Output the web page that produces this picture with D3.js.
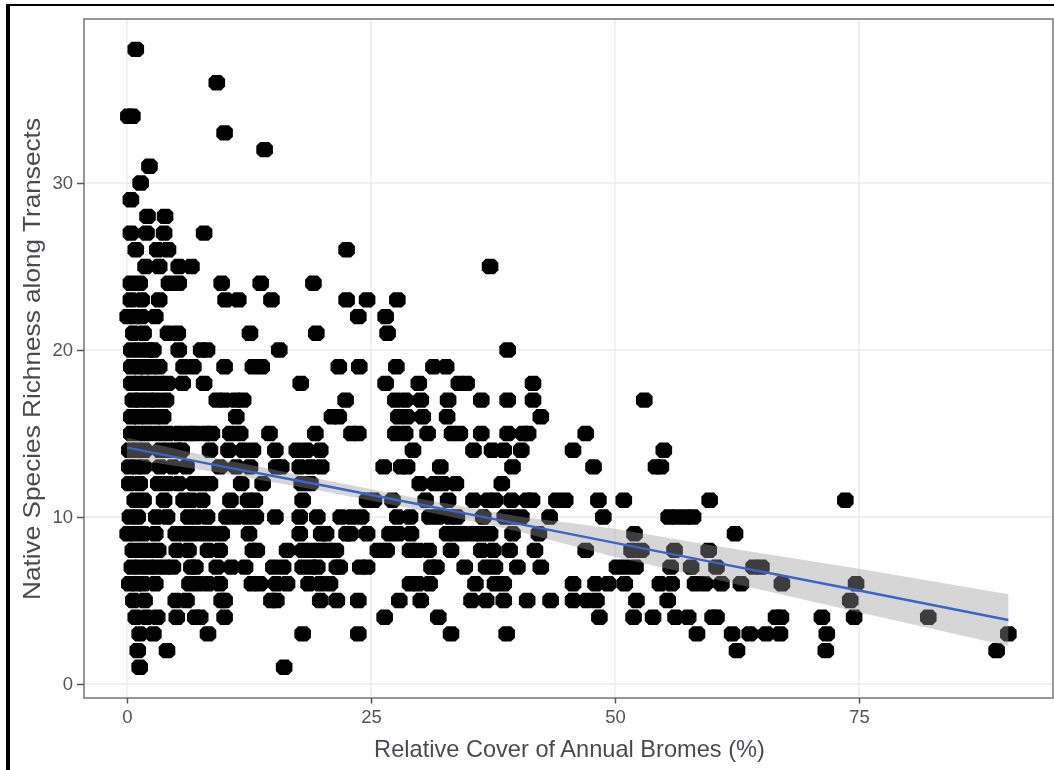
<!DOCTYPE html>
<html><head><meta charset="utf-8">
<script src="https://cdn.jsdelivr.net/npm/d3@7"></script>
<style>html,body{margin:0;padding:0;background:#fff}svg{display:block}text{font-family:"Liberation Sans",Arial,sans-serif}</style>
</head><body><svg id="c" width="1054" height="770"><defs><filter id="soft" x="0" y="0" width="100%" height="100%"><feGaussianBlur stdDeviation="0.55"/></filter></defs></svg>
<script>
const xTicks=[0,25,50,75], yTicks=[0,10,20,30];
const xTitle="Relative Cover of Annual Bromes (%)", yTitle="Native Species Richness along Transects";
// x values (percent cover) of the points in each richness row
const rows={
38:[0.9],36:[9.2],34:[0.14,0.55],33:[10],32:[14.1],31:[2.3],30:[1.4],29:[0.4],
28:[2.1,3.9],27:[0.4,2,3.8,7.9],26:[0.9,3.1,4.2,22.5],25:[1.9,3.3,5.3,6.6,37.2],
24:[0.4,1.3,4.3,5.3,9.7,13.7,19.1],23:[0.4,1.5,3.3,10.1,11.4,14.8,22.5,24.6,27.7],
22:[0.07,0.8,1.5,2.9,23.7,26.5],21:[0.65,1.7,4.2,5.2,12.6,19.4,26.7],
20:[0.44,1.33,2.2,2.7,5.3,7.6,8.2,15.6,39],
19:[0.44,1.2,1.8,2.5,3.3,5.8,6.8,10,12.9,13.8,21.7,23.8,27.6,31.4,32.7],
18:[0.44,1.2,1.8,2.5,3.4,4.2,5.7,7.9,17.8,26.5,29.9,34,34.8,41.6],
17:[0.6,1.3,2.2,3,4,9.2,10,11.1,11.9,22.4,27.5,28.5,30.1,32.9,36.3,39,41.6,53],
16:[0.44,1.2,2,2.9,3.7,11.2,21,21.7,27.8,28.7,30.3,32.8,42.4],
15:[0.44,1.3,2.2,3.2,4.2,5.3,6.3,7,8,8.7,10.6,11.6,14.6,19.3,23,23.7,27.5,28.5,30.8,33.3,34.1,36.3,39,40.6,41.1,47],
14:[0.24,1,1.8,3.4,4.2,5.1,5.6,8.5,10.4,11.9,12.9,15.2,17.4,18.4,19.8,29.3,35.5,37.4,38.6,40.4,45.7,55],
13:[0.24,1,1.7,3.4,4.7,6.1,9.5,11.2,12.6,15.3,15.8,17.7,18.8,19.9,26.3,28.1,28.7,32.1,39.5,47.8,54.2,54.7],
12:[0.24,1.3,3.2,4.2,5.3,6.8,7.7,8.5,11.7,13.9,17.9,18.8,30,31.5,32.4,33.7,38.4],
11:[0.8,1.7,3.8,5.8,6.6,7.7,10.6,12.4,13.1,18,24.6,25.3,27.2,30.6,32.9,35.5,37,37.7,39.4,41,41.5,44,44.9,48.3,50.9,59.7,73.6],
10:[0.3,1.1,3,4.1,6.3,7.1,8.2,10.2,11.2,12.3,13.2,15.2,17.7,19.5,21.9,23,24,27.7,29,31,31.9,33.1,33.8,36.5,38.7,39.6,40.4,43.3,48.8,55.5,56.3,57.2,58],
9:[0.07,0.8,1.7,2.9,5,5.9,6.8,7.8,8.7,9.7,12.5,17.7,19.9,20.4,22.5,22.9,24.6,26.9,27.8,29.1,32.8,33.6,34.5,35.5,36.3,37.2,39.5,42.2,52,62.3],
8:[0.6,1.5,2.4,3.2,5.1,6.3,8.3,9.5,12.9,13.3,16.4,18,18.9,19.8,20.6,21.4,25.7,26.6,29,29.8,30.9,33.2,36.3,37.5,39.2,41.8,47,51.7,52.7,56.1,59.6],
7:[0.5,1.3,2.2,3,3.9,4.7,6.6,7,9.2,10.7,12.1,15,16,18,18.9,19.5,21.5,21.8,23.9,24.6,31.2,31.7,34.6,36.8,37.7,40,42.4,50.2,51.1,52.1,55.7,57.8,60.4,64.2,65],
6:[0.24,1,1.7,2.9,6.4,7.3,8.3,9.5,12.8,13.6,15.3,16.4,18.6,19.8,20.8,29,29.8,31,35.7,37.7,38.6,45.7,48,49.3,51,54.6,55.8,58.2,59.2,60.9,62.9,67.1,74.7],
5:[0.65,1.8,5,6.1,9.7,10,14.8,15.3,19.8,21.5,23.7,27.9,30.1,35.3,36.8,38.6,41,43.4,45.7,47.1,48.1,52.2,55.4,74.1],
4:[0.9,2,3.1,5.1,7,7.5,10,26.4,31.9,48.4,51.9,53.9,56.2,57.5,60,60.4,66.5,67,71.2,74.5,82.1],
3:[1.3,2.7,8.3,18,23.7,33.2,38.9,58.4,62,63.8,65.5,66.9,71.7,90.3],
2:[1.1,4.1,62.5,71.6,89.1],
1:[1.3,16.1]};
// fitted line with confidence ribbon
const fitX=[0,10,20,30,40,50,60,75,90.3];
const fitY=[14.15,13.0,11.9,10.75,9.6,8.45,7.3,5.6,3.83];
const fitLo=[13.5,12.6,11.55,10.4,9.15,7.6,6.3,4.3,2.28];
const fitHi=[14.75,13.42,12.25,11.1,10.05,9.3,8.3,6.9,5.38];

const svg=d3.select("#c");
const L=84,R=1053,T=19,B=698;
const x=d3.scaleLinear().domain([0,75]).range([127,859]);
const y=d3.scaleLinear().domain([0,30]).range([684,183]);
const root=svg.append("g").attr("filter","url(#soft)");
root.append("rect").attr("width",1054).attr("height",770).attr("fill","#fff");
// outer frame of the pasted picture
root.append("rect").attr("x",6).attr("y",4).attr("width",4).attr("height",766).attr("fill","#000");
root.append("rect").attr("x",6).attr("y",4).attr("width",1048).attr("height",2).attr("fill","#000");
const grid=root.append("g").attr("stroke","#ebebeb").attr("stroke-width",1.4);
grid.selectAll("line.x").data(xTicks).join("line").attr("x1",d=>x(d)).attr("x2",d=>x(d)).attr("y1",T).attr("y2",B);
grid.selectAll("line.y").data(yTicks).join("line").attr("y1",d=>y(d)).attr("y2",d=>y(d)).attr("x1",L).attr("x2",R);
const pts=Object.entries(rows).flatMap(([r,xs])=>xs.map(v=>({v,r:+r})));
// the dots of the blurred original read as small flat-topped octagons
const octagon={draw(c){const a=8.3,b=7.7,k=3.9;c.moveTo(-a+k,-b);c.lineTo(a-k,-b);c.lineTo(a,-b+k);c.lineTo(a,b-k);c.lineTo(a-k,b);c.lineTo(-a+k,b);c.lineTo(-a,b-k);c.lineTo(-a,-b+k);c.closePath();}};
root.append("g").selectAll("path").data(pts).join("path").attr("d",d3.symbol().type(octagon)).attr("transform",d=>`translate(${x(d.v)},${y(d.r)})`).attr("fill","#000");
const band=fitX.map((v,i)=>({v,lo:fitLo[i],hi:fitHi[i],m:fitY[i]}));
root.append("path").attr("d",d3.area().x(d=>x(d.v)).y0(d=>y(d.lo)).y1(d=>y(d.hi))(band)).attr("fill","#999").attr("fill-opacity",.4);
root.append("path").attr("d",d3.line().x(d=>x(d.v)).y(d=>y(d.m))(band)).attr("fill","none").attr("stroke","#3b64c8").attr("stroke-width",2.4);
root.append("rect").attr("x",L).attr("y",T).attr("width",R-L).attr("height",B-T).attr("fill","none").attr("stroke","#8c8c8c").attr("stroke-width",1.8);
const xa=root.append("g").attr("transform",`translate(0,${B})`).call(d3.axisBottom(x).tickValues(xTicks).tickSize(5.5).tickPadding(6));
const ya=root.append("g").attr("transform",`translate(${L},0)`).call(d3.axisLeft(y).tickValues(yTicks).tickSize(7).tickPadding(4));
[xa,ya].forEach(a=>{a.select(".domain").remove();a.selectAll("line").attr("stroke","#555").attr("stroke-width",1.5);a.selectAll("text").attr("fill","#555").style("font-size","18.5px");});
root.append("text").attr("x",569.5).attr("y",757).attr("text-anchor","middle").attr("fill","#4a4a52").style("font-size","23.6px").text(xTitle);
root.append("text").attr("transform","translate(40,359) rotate(-90)").attr("text-anchor","middle").attr("textLength",482).attr("lengthAdjust","spacingAndGlyphs").attr("fill","#4a4a52").style("font-size","23.6px").text(yTitle);
</script></body></html>
